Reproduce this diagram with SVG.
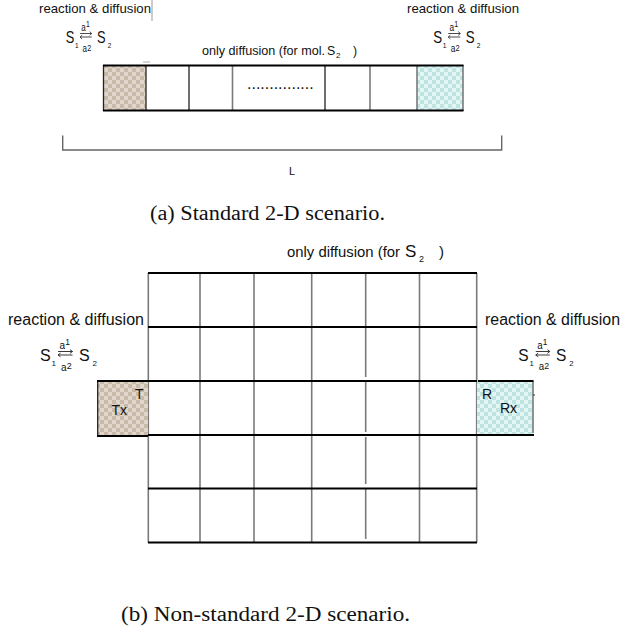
<svg xmlns="http://www.w3.org/2000/svg" width="622" height="632" viewBox="0 0 622 632">
<style>
.sans{font-family:"Liberation Sans",Arial,sans-serif;fill:#111}
.serif{font-family:"Liberation Serif","Times New Roman",serif;fill:#111}
.hline{stroke:#000;stroke-width:2.2;fill:none}
.vline{stroke:#7a7a7a;stroke-width:1.6;fill:none}
.vdark{stroke:#222;stroke-width:1.3;fill:none}
.arr{stroke:#222;stroke-width:0.9;fill:none}
</style>
<defs>
<pattern id="chkBrown" width="8" height="8" patternUnits="userSpaceOnUse">
<rect width="8" height="8" fill="#e0d6cb"/>
<rect width="4" height="4" fill="#c9b9a8"/>
<rect x="4" y="4" width="4" height="4" fill="#c9b9a8"/>
</pattern>
<pattern id="chkCyan" width="8" height="8" patternUnits="userSpaceOnUse">
<rect width="8" height="8" fill="#e2f7f5"/>
<rect width="4" height="4" fill="#bfe3e0"/>
<rect x="4" y="4" width="4" height="4" fill="#bfe3e0"/>
</pattern>
<g id="eq">
<text class="sans" x="0" y="0" font-size="16">S</text>
<text class="sans" x="11.5" y="5" font-size="8">1</text>
<text class="sans" x="19.5" y="-12.5" font-size="10">a</text>
<text class="sans" x="25.3" y="-16" font-size="8.5">1</text>
<path class="arr" d="M18,-9.5 H32.5 M30,-11.4 L32.5,-9.5 L30,-7.6"/>
<path class="arr" d="M32.5,-6 H18 M20.5,-7.9 L18,-6 L20.5,-4.1"/>
<text class="sans" x="21" y="9.5" font-size="10">a</text>
<text class="sans" x="26.8" y="7.5" font-size="9">2</text>
<text class="sans" x="39" y="0" font-size="16">S</text>
<text class="sans" x="52.5" y="5" font-size="8">2</text>
</g>
</defs>
<rect width="622" height="632" fill="#fff"/>

<!-- (a) standard scenario -->
<g id="a-left-label">
<text class="sans" x="39" y="12.5" font-size="13" textLength="112" lengthAdjust="spacingAndGlyphs">reaction &amp; diffusion</text>
<line x1="152" y1="0" x2="152" y2="21" stroke="#999" stroke-width="1"/>
<use href="#eq" transform="translate(65.7,43) scale(0.8,1)"/>
</g>
<g id="a-right-label">
<text class="sans" x="407" y="12.5" font-size="13" textLength="112" lengthAdjust="spacingAndGlyphs">reaction &amp; diffusion</text>
<use href="#eq" transform="translate(433.3,43) scale(0.83,1)"/>
</g>
<g id="a-mid-label">
<text class="sans" x="202" y="55" font-size="12.3" textLength="123" lengthAdjust="spacingAndGlyphs">only diffusion (for mol.</text>
<text class="sans" x="327" y="55" font-size="12.3">S</text>
<text class="sans" x="336" y="57.5" font-size="8">2</text>
<text class="sans" x="353" y="55" font-size="12.3">)</text>
<line x1="143" y1="62" x2="150" y2="62" stroke="#bbb" stroke-width="1.2"/>
</g>
<g id="a-strip">
<rect x="103.5" y="65.5" width="42.5" height="45" fill="url(#chkBrown)"/>
<rect x="417" y="65.5" width="46" height="45" fill="url(#chkCyan)"/>
<line class="vdark" x1="103.5" y1="65" x2="103.5" y2="111"/>
<line class="vdark" x1="146" y1="65" x2="146" y2="111"/>
<line class="vdark" x1="189" y1="65" x2="189" y2="111"/>
<line class="vline" x1="232.5" y1="65" x2="232.5" y2="111"/>
<line class="vdark" x1="325" y1="65" x2="325" y2="111"/>
<line class="vline" x1="370" y1="65" x2="370" y2="111"/>
<line class="vline" x1="417" y1="65" x2="417" y2="111"/>
<line class="vline" x1="463" y1="65" x2="463" y2="111"/>
<line class="hline" x1="103" y1="65.5" x2="463.5" y2="65.5"/>
<line class="hline" x1="103" y1="110.5" x2="463.5" y2="110.5"/>
<text class="sans" x="247" y="89" font-size="16">...............</text>
</g>
<g id="a-bracket">
<path d="M62.7,135.5 V150 H501.7 V135.5" fill="none" stroke="#666" stroke-width="1.4"/>
<text class="sans" x="289" y="175" font-size="11">L</text>
</g>
<text class="serif" x="150" y="220" font-size="20" textLength="235" lengthAdjust="spacingAndGlyphs">(a) Standard 2-D scenario.</text>

<!-- (b) non-standard scenario -->
<g id="b-top-label">
<text class="sans" x="287" y="257" font-size="14.5" textLength="113" lengthAdjust="spacingAndGlyphs">only diffusion (for</text>
<text class="sans" x="405" y="257" font-size="17">S</text>
<text class="sans" x="419" y="262" font-size="9">2</text>
<text class="sans" x="439" y="257" font-size="15">)</text>
</g>
<g id="b-left-label">
<text class="sans" x="8" y="325" font-size="16" textLength="136" lengthAdjust="spacingAndGlyphs">reaction &amp; diffusion</text>
<use href="#eq" transform="translate(40,361)"/>
</g>
<g id="b-right-label">
<text class="sans" x="485" y="325" font-size="16" textLength="135" lengthAdjust="spacingAndGlyphs">reaction &amp; diffusion</text>
<use href="#eq" transform="translate(518.3,361) scale(0.97,1)"/>
</g>
<g id="b-grid">
<line class="vline" x1="148.3" y1="273" x2="148.3" y2="542.5"/>
<line class="vline" x1="200" y1="273" x2="200" y2="542.5"/>
<line class="vline" x1="254" y1="273" x2="254" y2="542.5"/>
<line class="vline" x1="311.7" y1="273" x2="311.7" y2="542.5"/>
<path class="vline" d="M365.7,273 V377 M365.7,381 V432 M365.7,437 V484 M365.7,489 V539"/>
<line class="vline" x1="419.5" y1="273" x2="419.5" y2="542.5"/>
<line class="vline" x1="476.7" y1="273" x2="476.7" y2="542.5"/>
<line class="hline" x1="148" y1="273" x2="477" y2="273"/>
<line class="hline" x1="148" y1="327" x2="477" y2="327"/>
<line class="hline" x1="148" y1="381" x2="477" y2="381"/>
<line class="hline" x1="148" y1="435" x2="477" y2="435"/>
<line class="hline" x1="148" y1="488.5" x2="477" y2="488.5"/>
<line class="hline" x1="148" y1="542.5" x2="477" y2="542.5"/>
</g>
<g id="tx">
<rect x="97.5" y="381" width="50.5" height="55" fill="url(#chkBrown)"/>
<line class="vdark" x1="97.7" y1="380" x2="97.7" y2="437"/>
<line class="hline" x1="97" y1="381" x2="148" y2="381"/>
<line class="hline" x1="97" y1="436" x2="148" y2="436"/>
<text class="sans" x="135" y="398.5" font-size="14">T</text>
<text class="sans" x="111.5" y="415" font-size="14">Tx</text>
</g>
<g id="rx">
<rect x="477" y="381" width="56" height="54" fill="url(#chkCyan)"/>
<line class="vline" x1="533" y1="381" x2="533" y2="433"/>
<line x1="533" y1="395" x2="535" y2="395" stroke="#333" stroke-width="1"/>
<line class="hline" x1="478" y1="381" x2="533.5" y2="381"/>
<line class="hline" x1="476" y1="435" x2="534" y2="435"/>
<text class="sans" x="482" y="398.5" font-size="14">R</text>
<text class="sans" x="500" y="412.5" font-size="14">Rx</text>
</g>
<text class="serif" x="121" y="621" font-size="20" textLength="289" lengthAdjust="spacingAndGlyphs">(b) Non-standard 2-D scenario.</text>
</svg>
